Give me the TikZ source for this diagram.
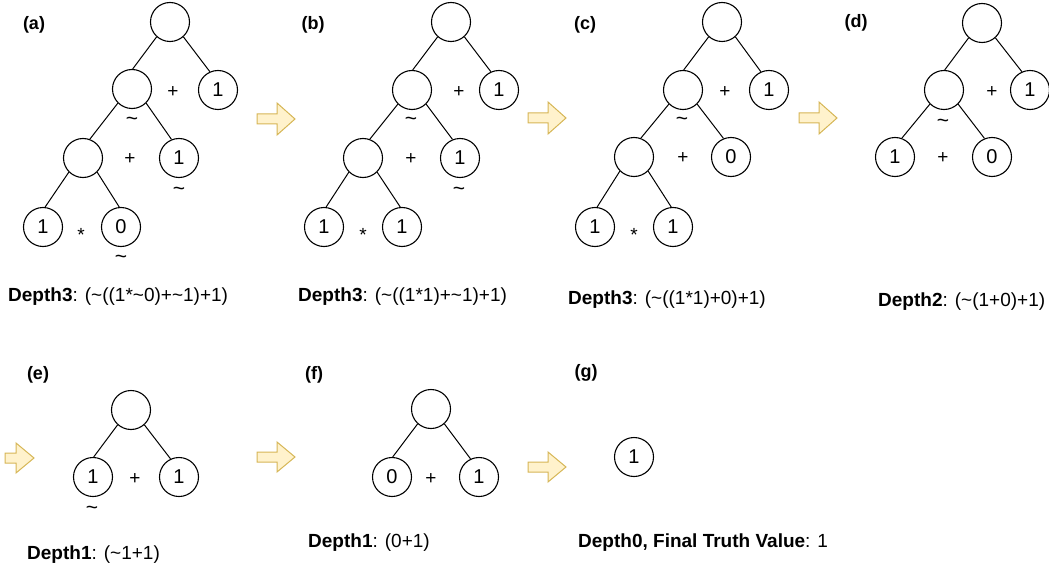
\documentclass[tikz,border=0pt]{standalone}
\usepackage{fontspec}
\setmainfont{Liberation Sans}
\definecolor{arrowfill}{HTML}{FFF2CC}
\definecolor{arrowline}{HTML}{D6B656}
\tikzset{
 tn/.style={circle, draw, line width=1.1pt, minimum size=39pt, inner sep=0pt, font=\fontsize{20}{22}\selectfont},
 op/.style={inner sep=0pt, font=\fontsize{19}{20}\selectfont},
 tl/.style={inner sep=0pt, font=\fontsize{21}{22}\selectfont},
 lbl/.style={inner sep=0pt, font=\bfseries\fontsize{18}{21}\selectfont},
 captxt/.style={inner sep=0pt, anchor=west, font=\fontsize{19}{22}\selectfont},
 edgeline/.style={line width=1pt},
 barrow/.style={fill=arrowfill, draw=arrowline, line width=1pt}
}
\newcommand\blockarrow[4]{%
 \draw[barrow] (#1,#2-5) -- (#1+#3-18,#2-5) -- (#1+#3-18,#2-#4) -- (#1+#3,#2) -- (#1+#3-18,#2+#4) -- (#1+#3-18,#2+5) -- (#1,#2+5) -- cycle;}
\newcommand\lt{\textasciitilde}
\begin{document}
\begin{tikzpicture}[x=1pt,y=-1pt]
\useasboundingbox (0,0) rectangle (1049,567);
% ---------- (a)
\node[lbl] (alab) at (34,25) {(a)};
\node[tn] (a0) at (170,22) {};
\node[tn] (a1) at (132,89) {};
\node[tn] (a2) at (218,90) {1};
\node[op] (ap1) at (173,92) {+};
\node[tl] (at1) at (132,121) {\lt};
\node[tn] (a3) at (83,158) {};
\node[tn] (a4) at (179,158) {1};
\node[op] (ap2) at (130,159) {+};
\node[tl] (at2) at (179,191) {\lt};
\node[tn] (a5) at (43,227) {1};
\node[tn] (a6) at (121,227) {0};
\node[op] (as) at (81,235) {*};
\node[tl] (at3) at (121,259) {\lt};
\draw[edgeline] (a0.228) -- (a1.88);
\draw[edgeline] (a0.312) -- (a2.114);
\draw[edgeline] (a1.225) -- (a3.70);
\draw[edgeline] (a1.315) -- (a4.112);
\draw[edgeline] (a3.225) -- (a5.84);
\draw[edgeline] (a3.315) -- (a6.95);
\node[captxt] (acap) at (8,297) {\textbf{Depth3}: (\lt((1*\lt0)+\lt1)+1)};
% ---------- (b)
\node[lbl] (blab) at (313,25) {(b)};
\node[tn] (b0) at (451,22) {};
\node[tn] (b1) at (412,90) {};
\node[tn] (b2) at (499,90) {1};
\node[op] (bp1) at (459,92) {+};
\node[tl] (bt1) at (411,121) {\lt};
\node[tn] (b3) at (363,158) {};
\node[tn] (b4) at (460,158) {1};
\node[op] (bp2) at (411,159) {+};
\node[tl] (bt2) at (459,191) {\lt};
\node[tn] (b5) at (324,227) {1};
\node[tn] (b6) at (402,227) {1};
\node[op] (bs) at (363,235) {*};
\draw[edgeline] (b0.228) -- (b1.88);
\draw[edgeline] (b0.312) -- (b2.114);
\draw[edgeline] (b1.225) -- (b3.70);
\draw[edgeline] (b1.315) -- (b4.112);
\draw[edgeline] (b3.225) -- (b5.84);
\draw[edgeline] (b3.315) -- (b6.95);
\node[captxt] (bcap) at (298,297) {\textbf{Depth3}: (\lt((1*1)+\lt1)+1)};
% ---------- (c)
\node[lbl] (clab) at (585,25) {(c)};
\node[tn] (c0) at (722,22) {};
\node[tn] (c1) at (683,90) {};
\node[tn] (c2) at (769,90) {1};
\node[op] (cp1) at (725,92) {+};
\node[tl] (ct1) at (682,121) {\lt};
\node[tn] (c3) at (634,157) {};
\node[tn] (c4) at (731,157) {0};
\node[op] (cp2) at (683,158) {+};
\node[tn] (c5) at (595,227) {1};
\node[tn] (c6) at (673,227) {1};
\node[op] (cs) at (634,235) {*};
\draw[edgeline] (c0.228) -- (c1.88);
\draw[edgeline] (c0.312) -- (c2.114);
\draw[edgeline] (c1.225) -- (c3.70);
\draw[edgeline] (c1.315) -- (c4.112);
\draw[edgeline] (c3.225) -- (c5.84);
\draw[edgeline] (c3.315) -- (c6.95);
\node[captxt] (ccap) at (568,300) {\textbf{Depth3}: (\lt((1*1)+0)+1)};
% ---------- (d)
\node[lbl] (dlab) at (856,23) {(d)};
\node[tn] (d0) at (982,23) {};
\node[tn] (d1) at (944,90) {};
\node[tn] (d2) at (1030,90) {1};
\node[op] (dp1) at (992,92) {+};
\node[tl] (dt1) at (943,123) {\lt};
\node[tn] (d3) at (895,157) {1};
\node[tn] (d4) at (992,157) {0};
\node[op] (dp2) at (943,158) {+};
\draw[edgeline] (d0.228) -- (d1.88);
\draw[edgeline] (d0.312) -- (d2.114);
\draw[edgeline] (d1.225) -- (d3.70);
\draw[edgeline] (d1.315) -- (d4.112);
\node[captxt] (dcap) at (878,302) {\textbf{Depth2}: (\lt(1+0)+1)};
% ---------- (e)
\node[lbl] (elab) at (38,375) {(e)};
\node[tn] (e0) at (131,410) {};
\node[tn] (e1) at (93,477) {1};
\node[tn] (e2) at (179,477) {1};
\node[op] (ep) at (135,479) {+};
\node[tl] (et) at (92,510) {\lt};
\draw[edgeline] (e0.228) -- (e1.88);
\draw[edgeline] (e0.312) -- (e2.115);
\node[captxt] (ecap) at (27,555) {\textbf{Depth1}: (\lt1+1)};
% ---------- (f)
\node[lbl] (flab) at (314,375) {(f)};
\node[tn] (f0) at (431,409) {};
\node[tn] (f1) at (392,477) {0};
\node[tn] (f2) at (479,477) {1};
\node[op] (fp) at (431,479) {+};
\draw[edgeline] (f0.228) -- (f1.88);
\draw[edgeline] (f0.312) -- (f2.115);
\node[captxt] (fcap) at (308,543) {\textbf{Depth1}: (0+1)};
% ---------- (g)
\node[lbl] (glab) at (586,373) {(g)};
\node[tn] (g0) at (634,457) {1};
\node[captxt] (gcap) at (578,543) {\textbf{Depth0, Final Truth Value}: 1};
% ---------- arrows
\blockarrow{257}{119}{38}{16}
\blockarrow{528}{118}{38}{16}
\blockarrow{799}{118}{38}{16}
\blockarrow{5}{458}{29}{15}
\blockarrow{257}{457}{38}{15}
\blockarrow{528}{467}{38}{15}
\end{tikzpicture}
\end{document}
